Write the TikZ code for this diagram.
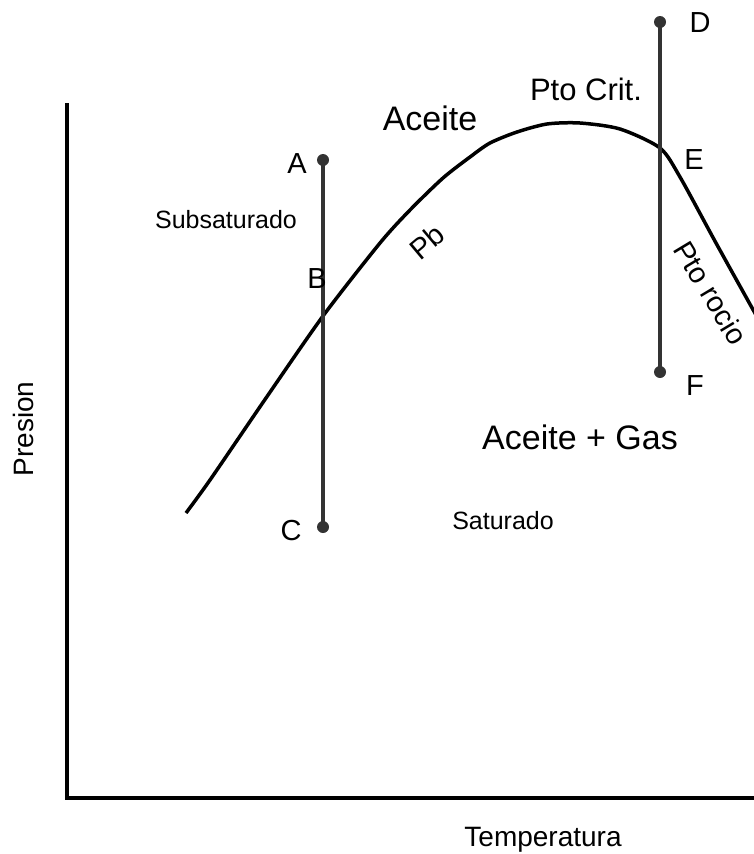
\documentclass[tikz,border=0pt]{standalone}
\usepackage{fontspec}
\setmainfont{Liberation Sans}
\begin{document}
\begin{tikzpicture}[x=1pt,y=-1pt,
  dot/.style={circle,fill=black!80,inner sep=0pt,minimum size=12pt},
  seg/.style={draw=black!80,line width=3.5pt},
  curve/.style={draw=black,line width=3.5pt,line join=round},
  axis/.style={draw=black,line width=3.5pt},
  big/.style={font=\fontsize{34}{40}\selectfont,inner sep=0pt},
  mid/.style={font=\fontsize{31}{36}\selectfont,inner sep=0pt},
  lbl/.style={font=\fontsize{29}{34}\selectfont,inner sep=0pt},
  small/.style={font=\fontsize{25}{30}\selectfont,inner sep=0pt},
  axlbl/.style={font=\fontsize{28}{33}\selectfont,inner sep=0pt}]
\useasboundingbox (0,0) rectangle (754,854);
% axes
\coordinate (top) at (67,103);
\coordinate (orig) at (67,798);
\coordinate (right) at (756,798);
\draw[axis] (top) -- (orig) -- (right);
% curve
\draw[curve] plot[smooth,tension=0.45] coordinates {(186,513) (210,480) (266,398) (323,316) (380,243) (410,210) (443,178) (470,157) (490,143) (517,132) (547,124) (580,123) (620,129) (660,148) (680,177) (716,243) (756,315)};
% vertical lines
\node[dot] (A) at (323,160) {};
\node[dot] (C) at (323,527) {};
\node[dot] (D) at (660,22) {};
\node[dot] (F) at (660,372) {};
\draw[seg] (A.center) -- (C.center);
\draw[seg] (D.center) -- (F.center);
% labels
\node[lbl] (lA) at (297,164) {A};
\node[lbl] (lB) at (317,279) {B};
\node[lbl] (lC) at (291,531) {C};
\node[lbl] (lD) at (700,23) {D};
\node[lbl] (lE) at (694,160) {E};
\node[lbl] (lF) at (695,386) {F};
\node[big] (aceite) at (430,118) {Aceite};
\node[mid] (ptocrit) at (586,89) {Pto Crit.};
\node[small] (subsat) at (226,220) {Subsaturado};
\node[big] (acgas) at (580,437) {Aceite + Gas};
\node[small] (sat) at (503,521) {Saturado};
\node[lbl,rotate=40] (pb) at (427,242) {Pb};
\node[lbl,rotate=-59] (rocio) at (711,293) {Pto rocio};
\node[axlbl] (temp) at (543,840) {Temperatura};
\node[axlbl,rotate=90] (pres) at (23,429) {Presion};
\end{tikzpicture}
\end{document}
